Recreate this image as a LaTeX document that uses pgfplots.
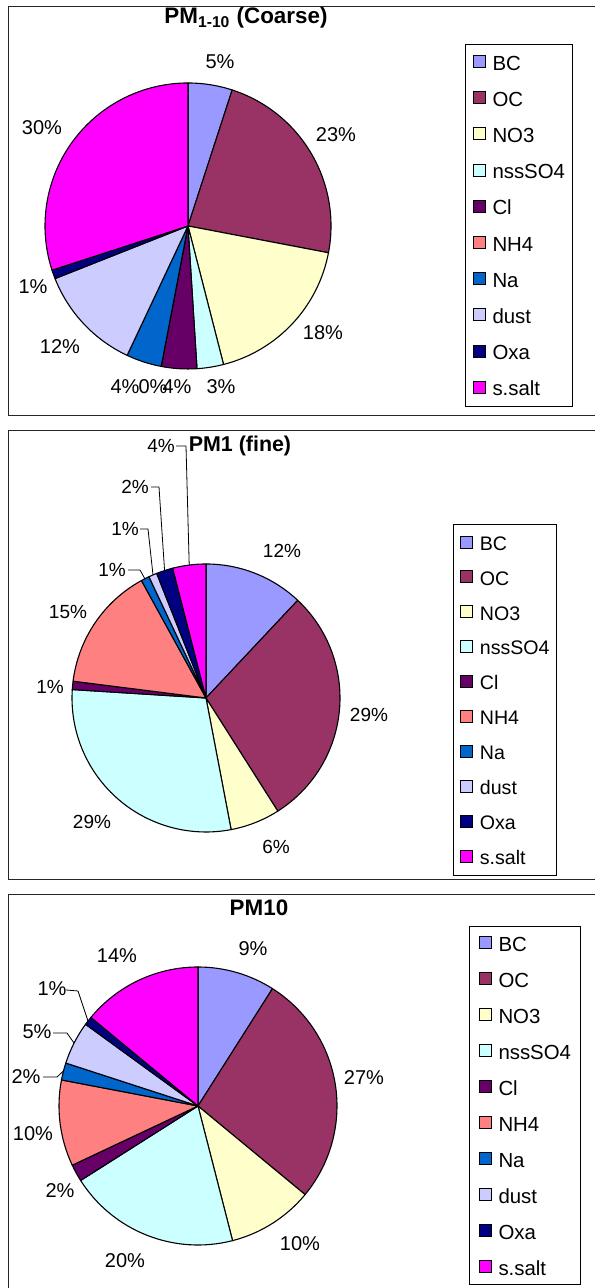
\documentclass[border=0pt]{standalone}
\usepackage{fontspec}
\setmainfont{Liberation Sans}
\usepackage{pgfplots}
\usepackage{pgfplotstable}
\pgfplotsset{compat=1.18}

\definecolor{c0}{HTML}{9999FF}% BC
\definecolor{c1}{HTML}{993366}% OC
\definecolor{c2}{HTML}{FFFFCC}% NO3
\definecolor{c3}{HTML}{CCFFFF}% nssSO4
\definecolor{c4}{HTML}{660066}% Cl
\definecolor{c5}{HTML}{FF8080}% NH4
\definecolor{c6}{HTML}{0066CC}% Na
\definecolor{c7}{HTML}{CCCCFF}% dust
\definecolor{c8}{HTML}{000080}% Oxa
\definecolor{c9}{HTML}{FF00FF}% s.salt

\pgfplotstableread{
comp val
BC 5
OC 23
NO3 18
nssSO4 3
Cl 4
NH4 0
Na 4
dust 12
Oxa 1
s.salt 30
}\coarse

\pgfplotstableread{
comp val
BC 12
OC 29
NO3 6
nssSO4 29
Cl 1
NH4 15
Na 1
dust 1
Oxa 2
s.salt 4
}\fine

\pgfplotstableread{
comp val
BC 9
OC 27
NO3 10
nssSO4 20
Cl 2
NH4 10
Na 2
dust 5
Oxa 1
s.salt 14
}\pmten

% #1 table, #2 cx, #3 cy (axis units), #4 radius (pt)
\newcommand\pieslices[4]{%
  \def\cum{0}%
  \pgfplotsforeachungrouped \i in {0,...,9}{%
    \pgfplotstablegetelem{\i}{val}\of{#1}%
    \pgfmathsetmacro\sa{90-3.6*\cum}%
    \pgfmathsetmacro\cum{\cum+\pgfplotsretval}%
    \pgfmathsetmacro\ea{90-3.6*\cum}%
    \edef\temp{\noexpand\filldraw[fill=c\i, draw=black, line width=0.55pt, line join=round]
      (axis cs:#2,#3) -- ++(\sa:#4) arc[start angle=\sa, end angle=\ea, radius=#4] -- cycle;}%
    \temp
  }%
}

\newcommand\legendall{%
  \addlegendimage{fill=c0}\addlegendentry{BC}
  \addlegendimage{fill=c1}\addlegendentry{OC}
  \addlegendimage{fill=c2}\addlegendentry{NO3}
  \addlegendimage{fill=c3}\addlegendentry{nssSO4}
  \addlegendimage{fill=c4}\addlegendentry{Cl}
  \addlegendimage{fill=c5}\addlegendentry{NH4}
  \addlegendimage{fill=c6}\addlegendentry{Na}
  \addlegendimage{fill=c7}\addlegendentry{dust}
  \addlegendimage{fill=c8}\addlegendentry{Oxa}
  \addlegendimage{fill=c9}\addlegendentry{s.salt}
}

\pgfplotsset{
  panel/.style={
    hide axis, clip=false,
    xmin=0, xmax=594, ymin=0, ymax=1288,
    x=0.5pt, y=0.5pt,
    at={(0pt,0pt)}, anchor=south west,
    legend cell align=left,
    legend image code/.code={%
      \draw[##1, draw=black, line width=0.5pt] (0pt,-2.4pt) rectangle (6pt,3.6pt);
      \path (9.5pt,0pt);},
  },
}

\newcommand\labA{\fontsize{10}{12}\selectfont}
\newcommand\labB{\fontsize{9.5}{11.4}\selectfont}

\begin{document}
\begin{tikzpicture}
\useasboundingbox (0pt,0pt) rectangle (297pt,644pt);

% ---------------- Panel 1: Coarse ----------------
\begin{axis}[panel,
  legend style={at={(465/594,1244/1288)}, anchor=north west,
    draw=black, line width=0.5pt, fill=white,
    inner xsep=3.5pt, inner ysep=5.3pt, row sep=10.6pt,
    nodes={inner sep=0pt, text height=7.3pt, text depth=0pt},
    font=\fontsize{10.2}{12}\selectfont}]
  \legendall
  \draw[black!85, line width=0.5pt] (axis cs:620,1281) -- (axis cs:8,1281) -- (axis cs:8,872) -- (axis cs:620,872);
  \pieslices{\coarse}{188}{1062}{71.5pt}
  \node[font=\bfseries\fontsize{11.2}{13}\selectfont] at (axis cs:246,1270) {PM\textsubscript{1-10} (Coarse)};
  \node[font=\labA] at (axis cs:220,1226) {5\%};
  \node[font=\labA] at (axis cs:336,1153) {23\%};
  \node[font=\labA] at (axis cs:323,955) {18\%};
  \node[font=\labA] at (axis cs:221,901) {3\%};
  \node[font=\labA] at (axis cs:125,901) {4\%};
  \node[font=\labA] at (axis cs:153,901) {0\%};
  \node[font=\labA] at (axis cs:177,901) {4\%};
  \node[font=\labA] at (axis cs:60,941) {12\%};
  \node[font=\labA] at (axis cs:33,1001) {1\%};
  \node[font=\labA] at (axis cs:42,1160) {30\%};
\end{axis}

% ---------------- Panel 2: Fine ----------------
\begin{axis}[panel,
  legend style={at={(453/594,764/1288)}, anchor=north west,
    draw=black, line width=0.5pt, fill=white,
    inner xsep=3.2pt, inner ysep=5.5pt, row sep=10.1pt,
    nodes={inner sep=0pt, text height=7.0pt, text depth=0pt},
    font=\fontsize{9.8}{11.8}\selectfont}]
  \legendall
  \draw[black!85, line width=0.5pt] (axis cs:620,857) -- (axis cs:8,857) -- (axis cs:8,408) -- (axis cs:620,408);
  \pieslices{\fine}{206}{590}{67pt}
  \node[font=\bfseries\fontsize{10.7}{13}\selectfont] at (axis cs:240,842) {PM1 (fine)};
  \node[font=\labB] at (axis cs:282,737) {12\%};
  \node[font=\labB] at (axis cs:369,573) {29\%};
  \node[font=\labB] at (axis cs:276,441) {6\%};
  \node[font=\labB] at (axis cs:92,466) {29\%};
  \node[font=\labB] at (axis cs:50,601) {1\%};
  \node[font=\labB] at (axis cs:68,676) {15\%};
  \node[font=\labB] at (axis cs:112,718) {1\%};
  \node[font=\labB] at (axis cs:125,759) {1\%};
  \node[font=\labB] at (axis cs:135,801) {2\%};
  \node[font=\labB] at (axis cs:161,842) {4\%};
  \draw[line width=0.4pt] (axis cs:128,718) -- (axis cs:140,718) -- (axis cs:145,709);
  \draw[line width=0.4pt] (axis cs:140,759) -- (axis cs:148,759) -- (axis cs:153,713);
  \draw[line width=0.4pt] (axis cs:151,801) -- (axis cs:159,801) -- (axis cs:164.6,717);
  \draw[line width=0.4pt] (axis cs:176,842) -- (axis cs:186,842) -- (axis cs:189.2,723);
\end{axis}

% ---------------- Panel 3: PM10 ----------------
\begin{axis}[panel,
  legend style={at={(469/594,362/1288)}, anchor=north west,
    draw=black, line width=0.5pt, fill=white,
    inner xsep=4.5pt, inner ysep=4.85pt, row sep=10.5pt,
    nodes={inner sep=0pt, text height=7.3pt, text depth=0pt},
    font=\fontsize{10.2}{12}\selectfont}]
  \legendall
  \draw[black!85, line width=0.5pt] (axis cs:620,393) -- (axis cs:8,393) -- (axis cs:8,-20);
  \pieslices{\pmten}{198}{182}{69.5pt}
  \node[font=\bfseries\fontsize{11.2}{13}\selectfont] at (axis cs:259,380) {PM10};
  \node[font=\labA] at (axis cs:253,339) {9\%};
  \node[font=\labA] at (axis cs:364,210) {27\%};
  \node[font=\labA] at (axis cs:300,44) {10\%};
  \node[font=\labA] at (axis cs:125,27) {20\%};
  \node[font=\labA] at (axis cs:60,97) {2\%};
  \node[font=\labA] at (axis cs:33,154) {10\%};
  \node[font=\labA] at (axis cs:26,211) {2\%};
  \node[font=\labA] at (axis cs:37,256) {5\%};
  \node[font=\labA] at (axis cs:52,299) {1\%};
  \node[font=\labA] at (axis cs:117,332) {14\%};
  \draw[line width=0.4pt] (axis cs:43,211) -- (axis cs:57,211) -- (axis cs:63.4,217);
  \draw[line width=0.4pt] (axis cs:53,255) -- (axis cs:67,255) -- (axis cs:74,245);
  \draw[line width=0.4pt] (axis cs:66,298) -- (axis cs:78,297) -- (axis cs:88,267);
\end{axis}
\end{tikzpicture}
\end{document}
